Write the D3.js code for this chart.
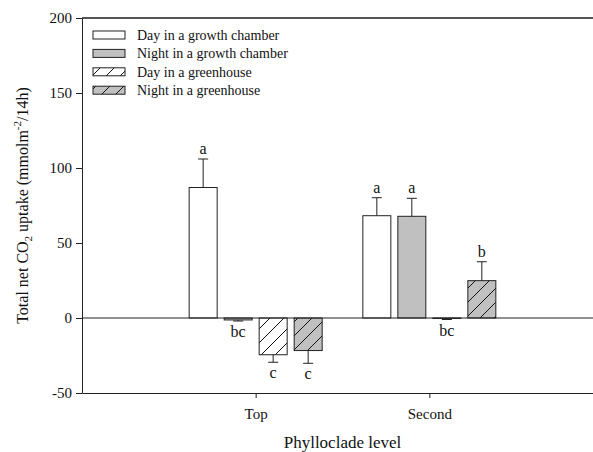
<!DOCTYPE html>
<html><head><meta charset="utf-8">
<script src="https://cdn.jsdelivr.net/npm/d3@7"></script>
<style>body{margin:0;background:#fff}svg{display:block}text{font-family:"Liberation Serif","Times New Roman",serif;fill:#111}</style>
</head><body>
<script>
const categories = ["Top", "Second"];
const seriesNames = ["Day in a growth chamber", "Night in a growth chamber", "Day in a greenhouse", "Night in a greenhouse"];
const valuesTop = [87, -1.3, -24.5, -21.7];
const errorsTop = [19, 0.7, 5, 8.5];
const lettersTop = ["a", "bc", "c", "c"];
const valuesSecond = [68.2, 67.8, -0.3, 24.9];
const errorsSecond = [12, 12, 0.7, 12.6];
const lettersSecond = ["a", "a", "bc", "b"];
const yTicks = [-50, 0, 50, 100, 150, 200];

(function () {
const W = 593, H = 452;
const svg = d3.select("body").append("svg").attr("width", W).attr("height", H);
const defs = svg.append("defs");
function hatch(id, fill) {
  const p = defs.append("pattern").attr("id", id).attr("patternUnits", "userSpaceOnUse")
    .attr("width", 14).attr("height", 14);
  p.append("rect").attr("width", 14).attr("height", 14).attr("fill", fill);
  p.append("path").attr("d", "M0,14L14,0M-3.5,3.5L3.5,-3.5M10.5,17.5L17.5,10.5")
    .attr("stroke", "#111").attr("stroke-width", 1);
}
hatch("hW", "#fff"); hatch("hG", "#c0c0c0");
const fills = ["#fff", "#c0c0c0", "url(#hW)", "url(#hG)"];

const mLeft = 82, mRight = 603, mTop = 18, mBottom = 393;
const x = d3.scalePoint().domain(categories).range([mLeft, mRight]).padding(1);
const xs = d3.scaleBand().domain(seriesNames).range([-70, 70]).paddingInner(0.2).paddingOuter(0.1);
const y = d3.scaleLinear().domain([-50, 200]).range([mBottom, mTop]);

const data = [];
categories.forEach((c, ci) => {
  const v = ci === 0 ? valuesTop : valuesSecond;
  const e = ci === 0 ? errorsTop : errorsSecond;
  const l = ci === 0 ? lettersTop : lettersSecond;
  seriesNames.forEach((s, si) => data.push({c, s, si, v: v[si], e: e[si], l: l[si]}));
});

svg.append("line").attr("x1", mLeft).attr("x2", mRight).attr("y1", y(200)).attr("y2", y(200))
  .attr("stroke", "#555").attr("stroke-width", 2);

const g = svg.append("g");
data.forEach(d => {
  const bx = x(d.c) + xs(d.s), bw = xs.bandwidth();
  const y0 = y(0), y1 = y(d.v);
  g.append("rect").attr("x", bx).attr("y", Math.min(y0, y1)).attr("width", bw)
    .attr("height", Math.abs(y1 - y0)).attr("fill", fills[d.si]).attr("stroke", "#222").attr("stroke-width", 1);
  const cx = bx + bw / 2;
  const ye = d.v >= 0 ? y(d.v + d.e) : y(d.v - d.e);
  g.append("line").attr("x1", cx).attr("x2", cx).attr("y1", y1).attr("y2", ye).attr("stroke", "#222");
  g.append("line").attr("x1", cx - 5).attr("x2", cx + 5).attr("y1", ye).attr("y2", ye).attr("stroke", "#222");
  g.append("text").attr("x", cx).attr("y", d.v >= 0 ? ye - 5 : ye + 16)
    .attr("text-anchor", "middle").attr("font-size", 16).text(d.l);
});

svg.append("line").attr("x1", mLeft).attr("x2", mRight).attr("y1", y(0)).attr("y2", y(0))
  .attr("stroke", "#222").attr("stroke-width", 1);

const ya = svg.append("g").attr("transform", `translate(${mLeft},0)`)
  .call(d3.axisLeft(y).tickValues(yTicks).tickFormat(d => String(d)).tickSize(6).tickSizeOuter(0).tickPadding(4));
const xa = svg.append("g").attr("transform", `translate(0,${mBottom})`)
  .call(d3.axisBottom(x).tickSize(5).tickSizeOuter(0).tickPadding(10));
[ya, xa].forEach(a => {
  a.selectAll("path,line").attr("stroke", "#222");
  a.selectAll("text").attr("font-size", 15).attr("font-family", '"Liberation Serif",serif').attr("fill", "#111");
});

svg.append("text").attr("x", (mLeft + mRight) / 2).attr("y", 448).attr("text-anchor", "middle")
  .attr("font-size", 17).text("Phylloclade level");
const yt = svg.append("text").attr("transform", `translate(28,${(mTop + mBottom) / 2}) rotate(-90)`)
  .attr("text-anchor", "middle").attr("font-size", 16);
yt.append("tspan").text("Total net CO");
yt.append("tspan").attr("font-size", 11).attr("dy", 4).text("2");
yt.append("tspan").attr("dy", -4).text(" uptake (mmolm");
yt.append("tspan").attr("font-size", 11).attr("dy", -7).text("-2");
yt.append("tspan").attr("dy", 7).text("/14h)");

const lg = svg.append("g");
seriesNames.forEach((s, i) => {
  const cy = 35 + i * 18.4;
  lg.append("rect").attr("x", 93).attr("y", cy - 4).attr("width", 32).attr("height", 8)
    .attr("fill", fills[i]).attr("stroke", "#222");
  lg.append("text").attr("x", 137).attr("y", cy).attr("dy", "0.35em").attr("font-size", 14).text(s);
});
})();
</script>
</body></html>
